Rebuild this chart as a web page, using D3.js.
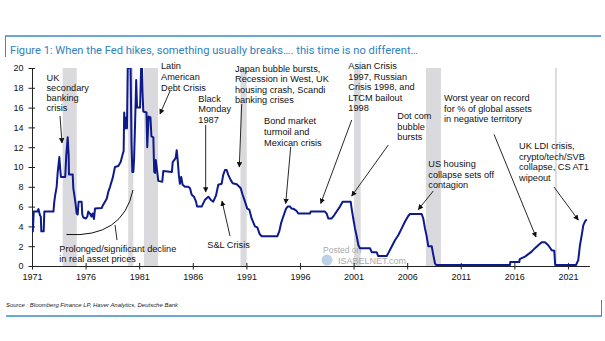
<!DOCTYPE html>
<html><head><meta charset="utf-8">
<script src="https://cdn.jsdelivr.net/npm/d3@7/dist/d3.min.js"></script>
<style>
html,body{margin:0;padding:0;background:#fff;}
svg{display:block;font-family:"Liberation Sans",Arial,sans-serif;}
</style></head>
<body>
<svg id="c" width="605" height="341"></svg>
<script>
// ---- DATA ----
const fedDates = [1971.00,1971.08,1971.16,1971.50,1971.60,1971.75,1971.82,1971.87,1972.09,1972.15,1973.00,1973.08,1973.17,1973.30,1973.40,1973.55,1973.64,1973.70,1974.10,1974.20,1974.33,1974.42,1974.45,1974.80,1974.85,1975.04,1975.17,1975.26,1975.35,1975.63,1975.69,1975.79,1976.04,1976.16,1976.25,1976.40,1976.55,1976.65,1976.78,1976.88,1977.50,1977.60,1977.81,1977.97,1978.12,1978.28,1978.53,1978.74,1979.05,1979.27,1979.46,1979.55,1979.60,1979.68,1979.78,1979.86,1979.93,1980.20,1980.28,1980.36,1980.45,1980.52,1980.62,1980.72,1980.80,1981.08,1981.18,1981.26,1981.32,1981.38,1981.68,1981.75,1981.88,1982.05,1982.14,1982.32,1982.40,1982.48,1982.55,1982.66,1982.78,1983.15,1983.25,1984.05,1984.13,1984.40,1984.50,1984.59,1984.70,1984.80,1984.92,1985.05,1985.27,1985.58,1985.74,1985.90,1986.11,1986.30,1986.40,1986.83,1987.14,1987.45,1987.67,1987.91,1988.16,1988.38,1988.69,1988.84,1989.00,1989.16,1989.31,1989.53,1989.72,1990.10,1990.34,1990.47,1990.65,1990.87,1991.08,1991.27,1991.49,1991.80,1992.02,1992.25,1992.43,1993.88,1994.07,1994.23,1994.38,1994.54,1994.70,1994.85,1995.07,1995.22,1995.44,1995.69,1995.84,1996.93,1997.00,1998.33,1998.49,1998.64,1998.95,1999.17,1999.42,1999.73,1999.98,2000.73,2000.82,2000.97,2001.13,2001.29,2001.45,2001.60,2002.53,2002.69,2003.15,2003.30,2004.09,2004.24,2004.55,2004.86,2005.17,2005.49,2005.80,2006.10,2006.26,2007.35,2007.50,2007.66,2007.82,2007.97,2008.29,2008.44,2008.60,2008.70,2015.59,2015.62,2016.46,2016.50,2016.99,2017.30,2017.61,2017.92,2018.23,2018.55,2018.86,2019.16,2019.48,2019.72,2019.81,2021.75,2021.96,2022.12,2022.28,2022.43,2022.59,2022.75];
const fedRates = [5.0,3.5,5.5,5.5,5.75,5.1,5.0,3.5,3.5,5.5,5.5,6.5,7.2,8.0,9.5,11.0,9.7,9.0,9.0,11.2,13.0,11.2,9.25,9.25,7.9,6.5,5.3,5.2,6.5,6.5,5.2,4.9,4.8,5.0,5.5,5.3,5.0,5.3,4.75,5.8,5.85,6.1,6.5,6.8,7.5,8.0,8.9,10.0,10.1,10.5,11.3,11.6,15.5,13.9,15.0,13.9,20,20,12.5,9.5,9.5,10.7,14.5,18.8,16.0,16.0,20,20,17.4,15.6,15.5,12.0,15.1,15.0,13.1,13.0,9.5,9.4,10.7,9.7,8.6,8.5,9.6,9.5,10.5,10.9,11.7,10.7,9.2,8.3,9.0,8.2,8.0,8.0,7.85,7.2,7.0,6.5,6.0,6.0,6.7,7.0,6.7,6.5,7.1,8.2,8.3,9.2,9.7,9.7,9.2,8.7,8.35,8.25,8.0,7.85,7.2,6.5,5.8,5.7,4.8,4.0,3.9,3.2,3.0,3.0,3.5,4.3,4.8,5.3,5.8,6.0,6.0,5.8,5.75,5.55,5.3,5.3,5.5,5.5,5.3,4.8,4.8,5.1,5.5,6.0,6.5,6.5,5.8,4.8,3.8,3.0,2.1,1.8,1.8,1.4,1.4,1.0,1.0,1.3,1.95,2.6,3.1,3.8,4.5,5.05,5.25,5.25,4.8,3.8,3.0,2.0,2.0,1.1,0.25,0.1,0.1,0.4,0.4,0.7,0.95,1.2,1.45,1.8,2.1,2.4,2.4,2.1,1.6,1.55,0.1,0.1,0.6,2.1,3.1,4.1,4.5,4.7];
const recessionStart = [1973.86,1979.98,1981.45,1990.45,2001.04,2007.75,2019.79];
const recessionEnd   = [1975.17,1980.45,1982.75,1991.03,2001.66,2009.15,2019.96];
const xTickYears = [1971,1976,1981,1986,1991,1996,2001,2006,2011,2016,2021];
const yTickValues = [0,2,4,6,8,10,12,14,16,18,20];
const titleText = "Figure 1: When the Fed hikes, something usually breaks…. this time is no different…";
const sourceText = "Source : Bloomberg Finance LP, Haver Analytics, Deutsche Bank";

// ---- CHART ----
const svg = d3.select("#c");
const x = d3.scaleLinear().domain([1971, 2023]).range([32, 589.4]);
const y = d3.scaleLinear().domain([0, 20]).range([266, 68]);
const blue = "#3a8cc6";

// frame lines
svg.append("line").attr("x1",5).attr("x2",601).attr("y1",36).attr("y2",36).attr("stroke",blue).attr("stroke-width",1.5);
svg.append("line").attr("x1",5.5).attr("x2",5.5).attr("y1",36).attr("y2",57).attr("stroke",blue).attr("stroke-width",1);
svg.append("text").attr("x",10).attr("y",53.5).attr("fill","#2f80bd").attr("font-size",10.5)
  .attr("font-family","Roboto, 'Liberation Sans', Arial, sans-serif")
  .attr("textLength",408).attr("lengthAdjust","spacingAndGlyphs").text(titleText);

svg.append("line").attr("x1",6).attr("x2",602).attr("y1",316).attr("y2",316).attr("stroke",blue).attr("stroke-width",1.5);
svg.append("line").attr("x1",601.5).attr("x2",601.5).attr("y1",300).attr("y2",316).attr("stroke",blue).attr("stroke-width",1);
svg.append("text").attr("x",6).attr("y",307).attr("font-size",6).attr("font-style","italic").attr("fill","#222")
  .attr("textLength",172).attr("lengthAdjust","spacingAndGlyphs").text(sourceText);

// recession bars
const rec = recessionStart.map((s,i)=>({s, e: recessionEnd[i]}));
svg.append("g").selectAll("rect").data(rec).join("rect")
  .attr("x", d=>x(d.s)).attr("width", d=>x(d.e)-x(d.s))
  .attr("y", y(20)).attr("height", y(0)-y(20)).attr("fill","#d9d9de");

// watermark
const wm = svg.append("g");
wm.append("circle").attr("cx",327).attr("cy",260).attr("r",5.5).attr("fill","#bcd3e6");
wm.append("text").attr("x",323).attr("y",253).attr("font-size",8.5).attr("fill","#a9a9a9").text("Posted on");
wm.append("text").attr("x",338).attr("y",264).attr("font-size",9).attr("fill","#a9a9a9").text("ISABELNET.com");

// axes
const xAxis = svg.append("g").attr("transform",`translate(0,${y(0)})`)
  .call(d3.axisBottom(x).tickValues(xTickYears).tickFormat(d3.format("d")).tickSize(3.5).tickPadding(4).tickSizeOuter(0));
xAxis.selectAll(".tick line").attr("y1",-3);
const yAxis = svg.append("g").attr("transform",`translate(${x(1971)},0)`)
  .call(d3.axisLeft(y).tickValues(yTickValues).tickSize(3.5).tickPadding(5).tickSizeOuter(0));
yAxis.selectAll(".tick line").attr("x1",3);
[xAxis,yAxis].forEach(g=>{
  g.selectAll("text").attr("font-size",9).attr("fill","#111").attr("font-family","'Liberation Sans', Arial, sans-serif");
  g.selectAll("line,path").attr("stroke","#222");
});

// series line
svg.append("clipPath").attr("id","clip").append("rect").attr("x",x(1971)).attr("y",y(20)).attr("width",x(2023)-x(1971)).attr("height",y(0)-y(20)+1);
const series = fedDates.map((d,i)=>[d, fedRates[i]]);
svg.append("path").datum(series).attr("clip-path","url(#clip)")
  .attr("fill","none").attr("stroke","#0d1a8c").attr("stroke-width",2).attr("stroke-linejoin","round")
  .attr("d", d3.line().x(d=>x(d[0])).y(d=>y(d[1])));

// annotations
const defs = svg.append("defs");
defs.append("marker").attr("id","ah").attr("viewBox","0 0 10 10").attr("refX",9).attr("refY",5)
  .attr("markerWidth",6).attr("markerHeight",6).attr("orient","auto-start-reverse")
  .append("path").attr("d","M0,0 L10,5 L0,10 z").attr("fill","#111");

const notes = [
  {x:46.5, y:78, lines:["UK","secondary","banking","crisis"], lh:10, a:[60,116,62,143]},
  {x:161, y:66, lines:["Latin","American","Debt Crisis"], lh:10.6, a:[170,91,160,114]},
  {x:198.3, y:98.3, lines:["Black","Monday","1987"], lh:10.6, a:[205.7,125,205.7,192]},
  {x:207.3, y:244.3, lines:["S&L Crisis"], lh:10.6, a:[230,236,222,201]},
  {x:235, y:68.3, lines:["Japan bubble bursts,","Recession in West, UK","housing crash, Scandi","banking crises"], lh:10.5, a:[241.7,104,239.3,167]},
  {x:264, y:120.7, lines:["Bond market","turmoil and","Mexican crisis"], lh:10.8, a:[290.7,147,285.7,203.5]},
  {x:348.3, y:66, lines:["Asian Crisis","1997, Russian","Crisis 1998, and","LTCM bailout","1998"], lh:10.5, a:[351.7,120,320.7,203.5]},
  {x:397.3, y:116, lines:["Dot com","bubble","bursts"], lh:10.5, a:[388.3,145,351.7,196]},
  {x:428.3, y:164, lines:["US housing","collapse sets off","contagion"], lh:10.2, a:[433.3,191,418.3,209.5]},
  {x:444, y:97.7, lines:["Worst year on record","for % of global assets","in negative territory"], lh:10.6, a:[494,134.3,536,237]},
  {x:519, y:145.7, lines:["UK LDI crisis,","crypto/tech/SVB","collapse, CS AT1","wipeout"], lh:10.7, a:[554,187,578.3,220]},
  {x:59.3, y:248.3, lines:["Prolonged/significant decline","in real asset prices"], lh:10, a:null}
];
const ng = svg.append("g").attr("font-size",9.2).attr("fill","#111");
notes.forEach(n=>{
  const t = ng.append("text").attr("x",n.x).attr("y",n.y+3.3);
  n.lines.forEach((l,i)=>t.append("tspan").attr("x",n.x).attr("y",n.y+3.3+i*n.lh).text(l));
  if(n.a){
    ng.append("line").attr("x1",n.a[0]).attr("y1",n.a[1]).attr("x2",n.a[2]).attr("y2",n.a[3])
      .attr("stroke","#111").attr("stroke-width",0.9).attr("marker-end","url(#ah)");
  }
});
// curve bracket for prolonged decline
ng.append("path").attr("d","M66.5,234.5 Q123,238 133,190").attr("fill","none").attr("stroke","#111").attr("stroke-width",1);
ng.append("line").attr("x1",115).attr("y1",225).attr("x2",117).attr("y2",240).attr("stroke","#111").attr("stroke-width",0.9);
</script>
</body></html>
